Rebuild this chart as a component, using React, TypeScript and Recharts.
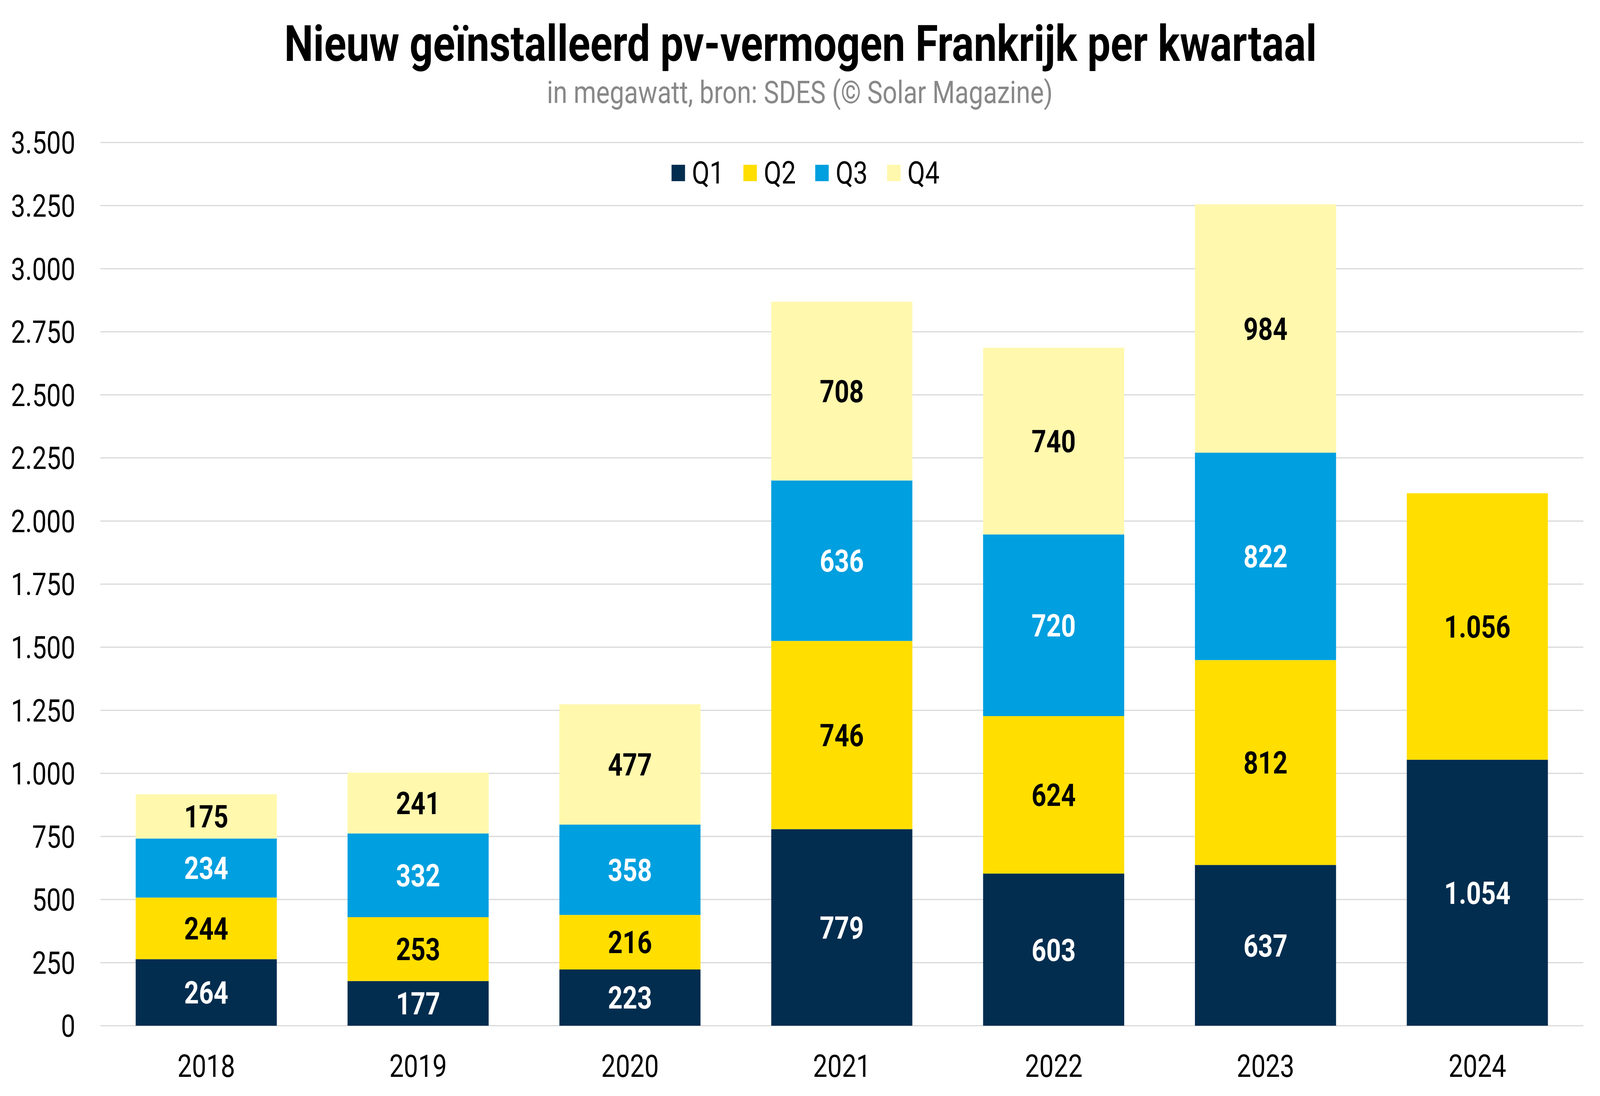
import React, { useEffect, useState } from 'react';
import { BarChart, Bar, XAxis, YAxis, CartesianGrid, LabelList, Legend } from 'recharts';

const years = ['2018', '2019', '2020', '2021', '2022', '2023', '2024'];
const q1 = [264, 177, 223, 779, 603, 637, 1054];
const q2 = [244, 253, 216, 746, 624, 812, 1056];
const q3 = [234, 332, 358, 636, 720, 822, null];
const q4 = [175, 241, 477, 708, 740, 984, null];
const yTicks = [0, 250, 500, 750, 1000, 1250, 1500, 1750, 2000, 2250, 2500, 2750, 3000, 3250, 3500];

const seriesKeys = ['Q1', 'Q2', 'Q3', 'Q4'];
const seriesColors = ['#022D4F', '#FFDE00', '#009FDF', '#FFF8AD'];
const labelColors = ['#FFFFFF', '#000000', '#FFFFFF', '#000000'];
const seriesValues = [q1, q2, q3, q4];

const titleText = 'Nieuw geïnstalleerd pv-vermogen Frankrijk per kwartaal';
const subtitleText = 'in megawatt, bron: SDES (© Solar Magazine)';

const data = years.map((year, i) => {
  const row: Record<string, any> = { year };
  seriesKeys.forEach((k, s) => {
    row[k] = seriesValues[s][i];
  });
  return row;
});

const fmt = (v: any) => {
  if (v === null || v === undefined || v === '') return '';
  return String(v).replace(/\B(?=(\d{3})+(?!\d))/g, '.');
};

const FONT = 'Roboto, "Noto Sans", sans-serif';
const W = 4989;
const H = 2807;

const LegendContent = () => (
  <div
    style={{
      display: 'flex',
      justifyContent: 'center',
      alignItems: 'center',
      width: W,
      fontFamily: FONT,
      fontSize: 80,
      color: '#000',
      paddingLeft: 34,
      boxSizing: 'border-box',
    }}
  >
    {seriesKeys.map((k, i) => (
      <div key={k} style={{ display: 'flex', alignItems: 'center', marginRight: i < seriesKeys.length - 1 ? 60 : 0 }}>
        <div style={{ width: 42, height: 42, background: seriesColors[i], marginRight: 22 }} />
        <span style={{ lineHeight: '90px' }}>{k}</span>
      </div>
    ))}
  </div>
);

// Fit the fixed 4989x2807 design into the actual window (which may be narrower).
const getScale = () => {
  if (typeof window === 'undefined') return { sx: 1, sy: 1 };
  const w = window.innerWidth || W;
  const h = window.innerHeight || H;
  return { sx: Math.min(1, w / W), sy: Math.min(1, h / H) };
};

export default function App() {
  const [scale, setScale] = useState(getScale());
  useEffect(() => {
    const onResize = () => setScale(getScale());
    window.addEventListener('resize', onResize);
    onResize();
    return () => window.removeEventListener('resize', onResize);
  }, []);

  return (
    <div
      style={{
        position: 'absolute',
        left: 0,
        top: 0,
        width: Math.floor(W * scale.sx),
        height: Math.floor(H * scale.sy),
        overflow: 'hidden',
        background: '#fff',
      }}
    >
      <div
        style={{
          position: 'absolute',
          left: 0,
          top: 0,
          width: W,
          height: H,
          background: '#fff',
          transform: `scale(${scale.sx}, ${scale.sy})`,
          transformOrigin: '0 0',
        }}
      >
        <svg width={W} height={300} style={{ position: 'absolute', left: 0, top: 0 }}>
          <text x={2496} y={156} textAnchor="middle" fontFamily={FONT} fontWeight={700} fontSize={128} fill="#000">
            {titleText}
          </text>
          <text x={2494} y={264} textAnchor="middle" fontFamily={FONT} fontSize={80} fill="#888888">
            {subtitleText}
          </text>
        </svg>
        <BarChart
          width={W}
          height={H}
          data={data}
          margin={{ top: 365, right: 52, left: 0, bottom: 0 }}
          barCategoryGap="16.67%"
        >
          <CartesianGrid vertical={false} stroke="#D9D9D9" strokeWidth={3} />
          <XAxis
            dataKey="year"
            height={180}
            tickLine={false}
            axisLine={false}
            tickSize={0}
            tickMargin={74}
            interval={0}
            tick={{ fontSize: 80, fontFamily: FONT, fill: '#000' }}
          />
          <YAxis
            width={313}
            domain={[0, 3500]}
            ticks={yTicks}
            interval={0}
            tickLine={false}
            axisLine={false}
            tickSize={0}
            tickMargin={78}
            tickFormatter={fmt}
            tick={{ fontSize: 80, fontFamily: FONT, fill: '#000' }}
          />
          <Legend
            verticalAlign="middle"
            align="center"
            layout="horizontal"
            content={<LegendContent />}
            wrapperStyle={{ position: 'absolute', top: 398, left: 0, width: W, height: 90 }}
          />
          {seriesKeys.map((k, i) => (
            <Bar key={k} dataKey={k} name={k} stackId="a" fill={seriesColors[i]} isAnimationActive={false}>
              <LabelList
                dataKey={k}
                position="center"
                formatter={fmt}
                fill={labelColors[i]}
                style={{ fontSize: 80, fontWeight: 700, fontFamily: FONT, fill: labelColors[i] }}
              />
            </Bar>
          ))}
        </BarChart>
      </div>
    </div>
  );
}
